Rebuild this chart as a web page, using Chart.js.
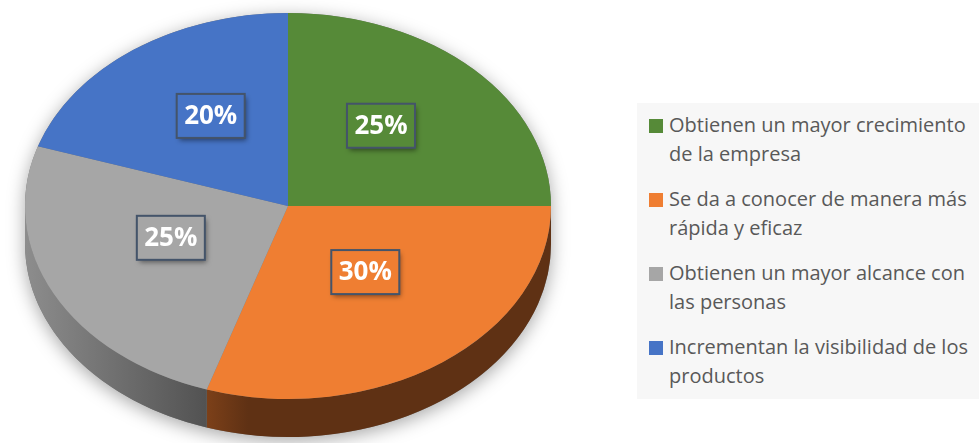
<!DOCTYPE html>
<html>
<head>
<meta charset="utf-8">
<script src="https://cdn.jsdelivr.net/npm/chart.js@4/dist/chart.umd.min.js"></script>
<style>
  html, body { margin: 0; padding: 0; background: #fff; }
  #wrap { position: relative; width: 979px; height: 443px; overflow: hidden; font-family: "Open Sans", sans-serif; }
  #pie { position: absolute; left: 0; top: 0; }
  #legend { position: absolute; left: 637px; top: 103px; width: 342px; height: 296px; background: #f7f7f7; }
  .item { position: absolute; left: 32px; white-space: nowrap; color: #595959; font-size: 20px; line-height: 29px; }
  .mark { position: absolute; left: -20px; top: 9px; width: 14px; height: 14px; }
</style>
</head>
<body>
<div id="wrap">
  <canvas id="pie" width="979" height="443"></canvas>
  <div id="legend"></div>
</div>
<script>
// categories (legend text, already wrapped like the original)
const categories = [
  ["Obtienen un mayor crecimiento", "de la empresa"],
  ["Se da a conocer de manera más", "rápida y eficaz"],
  ["Obtienen un mayor alcance con", "las personas"],
  ["Incrementan la visibilidad de los", "productos"]
];
const shares = [25, 30, 25, 20];

const sliceColors = ["#568a38", "#ef7e32", "#a6a6a6", "#4674c6"];
// side wall shading, light -> dark from left to right
const sideShades = [
  [[0, "#3d6228"], [1, "#2f4c1f"]],
  [[0, "#7c4019"], [0.12, "#5f3114"], [1, "#5f3114"]],
  [[0, "#8d8d8d"], [1, "#525252"]],
  [[0, "#31548f"], [1, "#25406e"]]
];

const TILT = 0.734;      // vertical squash of the top face
const DEPTH = 38;        // thickness of the cake
const LABEL_SHIFT = -12; // labels sit a bit higher in the original

const tilt3d = {
  id: "tilt3d",
  beforeDatasetDraw(chart, args) {
    const ctx = chart.ctx;
    const arcs = args.meta.data;
    const cx = arcs[0].x, cy = arcs[0].y, R = arcs[0].outerRadius;
    const ry = R * TILT;

    // soft shadow under the whole pie
    ctx.save();
    ctx.shadowColor = "rgba(0,0,0,0.35)";
    ctx.shadowBlur = 18;
    ctx.shadowOffsetY = 4;
    ctx.fillStyle = "#777";
    ctx.beginPath();
    ctx.ellipse(cx, cy, R, ry, 0, Math.PI, 2 * Math.PI);
    ctx.ellipse(cx, cy + DEPTH, R, ry, 0, 0, Math.PI);
    ctx.closePath();
    ctx.fill();
    ctx.restore();

    // side walls, only the front half is visible
    arcs.forEach((arc, i) => {
      const s = Math.max(arc.startAngle, 0);
      const e = Math.min(arc.endAngle, Math.PI);
      if (e <= s) return;
      const xl = cx + R * Math.cos(e), xr = cx + R * Math.cos(s);
      const g = ctx.createLinearGradient(xl, 0, xr, 0);
      sideShades[i].forEach(([o, c]) => g.addColorStop(o, c));
      ctx.fillStyle = g;
      ctx.beginPath();
      ctx.ellipse(cx, cy, R, ry, 0, s, e);
      ctx.ellipse(cx, cy + DEPTH, R, ry, 0, e, s, true);
      ctx.closePath();
      ctx.fill();
    });

    // squash the top face
    ctx.save();
    ctx.translate(0, cy);
    ctx.scale(1, TILT);
    ctx.translate(0, -cy);
  },
  afterDatasetDraw(chart, args) {
    const ctx = chart.ctx;
    ctx.restore();

    const w = 68, h = 44;
    args.meta.data.forEach((arc, i) => {
      const p = arc.getCenterPoint();
      const x = p.x;
      const y = arc.y + (p.y - arc.y) * TILT + LABEL_SHIFT;
      ctx.save();
      ctx.shadowColor = "rgba(0,0,0,0.45)";
      ctx.shadowBlur = 5;
      ctx.shadowOffsetX = 2;
      ctx.shadowOffsetY = 3;
      ctx.fillStyle = sliceColors[i];
      ctx.fillRect(x - w / 2, y - h / 2, w, h);
      ctx.restore();
      ctx.strokeStyle = "#44546a";
      ctx.lineWidth = 2;
      ctx.strokeRect(x - w / 2, y - h / 2, w, h);
      ctx.fillStyle = "#fff";
      ctx.font = "bold 26px 'Open Sans'";
      ctx.textAlign = "center";
      ctx.textBaseline = "middle";
      ctx.fillText(shares[i] + "%", x, y + 1);
    });
  }
};

new Chart(document.getElementById("pie"), {
  type: "pie",
  data: {
    labels: categories,
    datasets: [{
      data: shares,
      backgroundColor: sliceColors,
      borderWidth: 0,
      clip: false
    }]
  },
  options: {
    responsive: false,
    animation: false,
    events: [],
    radius: 263,
    layout: { padding: { left: 0, top: 0, right: 403, bottom: 31 } },
    plugins: {
      legend: { display: false },
      tooltip: { enabled: false }
    }
  },
  plugins: [tilt3d]
});

// legend
const legend = document.getElementById("legend");
categories.forEach((lines, i) => {
  const item = document.createElement("div");
  item.className = "item";
  item.style.top = (7 + i * 74) + "px";
  const mark = document.createElement("span");
  mark.className = "mark";
  mark.style.background = sliceColors[i];
  item.appendChild(mark);
  lines.forEach((t, j) => {
    if (j) item.appendChild(document.createElement("br"));
    item.appendChild(document.createTextNode(t));
  });
  legend.appendChild(item);
});
</script>
</body>
</html>
